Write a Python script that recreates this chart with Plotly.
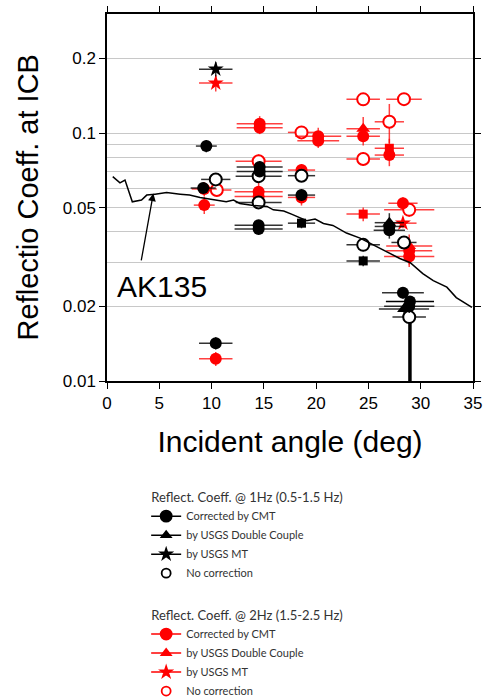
import math
import plotly.graph_objects as go

# ---------------- data ----------------
# AK135 theoretical curve
ak135_x = [0.55, 1.24, 1.72, 2.42, 3.3, 3.8, 4.6, 5.7, 7.0, 7.9, 8.9, 10.2, 11.4, 12.1, 12.7, 14.0, 15.3,
           15.9, 16.9, 17.7, 19.1, 19.9, 20.7, 21.6, 22.9, 24.2, 25.5, 26.7, 28.0, 29.0, 30.2, 31.2, 32.5,
           33.4, 34.9]
ak135_y = [0.0667, 0.063, 0.0646, 0.0528, 0.0537, 0.0562, 0.0567, 0.0575, 0.0567, 0.0562, 0.055, 0.054,
           0.0528, 0.0537, 0.052, 0.051, 0.0506, 0.049, 0.0485, 0.047, 0.0443, 0.045, 0.0432, 0.0424,
           0.0395, 0.0377, 0.0354, 0.0332, 0.0312, 0.0300, 0.0271, 0.0254, 0.0239, 0.0217, 0.0198]

# 1 Hz (black)
cmt1_x = [9.5, 9.2, 10.4, 14.6, 14.6, 14.5, 14.5, 18.6, 27.0, 27.0, 28.3, 28.9]
cmt1_y = [0.0886, 0.060, 0.0142, 0.073, 0.070, 0.0425, 0.041, 0.0562, 0.042, 0.0405, 0.0227, 0.0200]
cmt1_xerr = [1.0, 1.2, 1.6, 2.2, 2.2, 2.3, 2.3, 1.3, 1.4, 1.5, 2.0, 2.4]
cmt1_yerr = [0.005, 0.003, 0.0008, 0.004, 0.003, 0.002, 0.002, 0.003, 0.003, 0.003, 0.0012, 0.0012]

dc1_x = [27.0, 28.4]
dc1_y = [0.0435, 0.0195]
dc1_xerr = [1.4, 2.4]
dc1_yerr = [0.004, 0.001]

mt1_x = [10.4]
mt1_y = [0.181]
mt1_xerr = [1.6]
mt1_yerr = [0.012]

sq1_x = [18.6, 24.5]
sq1_y = [0.0433, 0.0305]
sq1_xerr = [1.3, 1.6]
sq1_yerr = [0.002, 0.0015]

no1_x = [10.4, 14.5, 14.5, 18.6, 24.5, 28.4, 28.9]
no1_y = [0.065, 0.067, 0.0525, 0.0673, 0.0354, 0.0362, 0.0181]
no1_xerr = [1.4, 2.2, 2.2, 1.3, 1.6, 1.2, 1.6]
no1_yerr = [0.003, 0.003, 0.002, 0.003, 0.002, 0.002, 0.001]

# long lower error bar at ~29 deg (1 Hz)
long1_x = [28.97]
long1_y = [0.0209]
long1_xerr = [2.3]
long1_yerr_plus = [0.001]
long1_yerr_minus = [0.018]

# 2 Hz (red)
cmt2_x = [9.3, 9.3, 10.4, 14.6, 14.6, 14.5, 14.5, 18.6, 18.6, 20.2, 20.2, 24.5, 27.0, 28.3, 28.9, 28.9]
cmt2_y = [0.0595, 0.0512, 0.0123, 0.109, 0.105, 0.058, 0.0555, 0.0709, 0.055, 0.097, 0.093, 0.097,
          0.0815, 0.0521, 0.0335, 0.0318]
cmt2_xerr = [1.2, 1.0, 1.6, 2.2, 2.2, 2.3, 2.3, 1.3, 1.3, 2.2, 2.0, 1.6, 1.4, 1.4, 2.2, 2.4]
cmt2_yerr = [0.004, 0.004, 0.0008, 0.008, 0.006, 0.005, 0.004, 0.004, 0.004, 0.008, 0.006, 0.008,
             0.008, 0.003, 0.004, 0.003]

dc2_x = [24.5, 28.9]
dc2_y = [0.104, 0.035]
dc2_xerr = [1.6, 2.2]
dc2_yerr = [0.012, 0.004]

mt2_x = [10.4, 28.3]
mt2_y = [0.159, 0.0433]
mt2_xerr = [1.6, 1.3]
mt2_yerr = [0.012, 0.002]

sq2_x = [24.5, 27.0]
sq2_y = [0.0471, 0.0868]
sq2_xerr = [1.6, 1.4]
sq2_yerr = [0.003, 0.008]

no2_x = [10.5, 14.5, 18.6, 24.5, 28.4, 27.0, 24.5, 28.9]
no2_y = [0.0589, 0.077, 0.1006, 0.1367, 0.137, 0.111, 0.0786, 0.049]
no2_xerr = [1.4, 2.2, 1.3, 1.6, 1.7, 1.4, 1.6, 2.4]
no2_yerr = [0.003, 0.005, 0.006, 0.008, 0.008, 0.02, 0.005, 0.003]

x_ticks = [0, 5, 10, 15, 20, 25, 30, 35]
y_ticks = [0.01, 0.02, 0.05, 0.1, 0.2]
y_ticktext = ["0.01", "0.02", "0.05", "0.1", "0.2"]
y_minor = [0.03, 0.04, 0.06, 0.07, 0.08, 0.09]

x_title = "Incident angle (deg)"
y_title = "Reflectio Coeff. at ICB"

group1_title = "Reflect. Coeff. @ 1Hz (0.5-1.5 Hz)"
group2_title = "Reflect. Coeff. @ 2Hz (1.5-2.5 Hz)"
legend_labels = ["Corrected by CMT", "by USGS Double Couple", "by USGS MT", "No correction"]

ak135_label = "AK135"
ak135_label_pos = (5.26, 0.0241)
ak135_arrow_head = (4.43, 0.0571)
ak135_arrow_tail = (3.25, 0.0302)

# ---------------- figure ----------------
BLACK = "black"
RED = "red"
RED_ERR = "rgba(255,0,0,0.75)"
BLACK_ERR = "rgba(0,0,0,0.8)"

fig = go.Figure()


def add_points(x, y, xerr, yerr, symbol, color, errcolor, size, open_=False, yerr_minus=None, ethick=1.5):
    ey = dict(type="data", array=yerr, color=errcolor, thickness=ethick, width=0)
    if yerr_minus is not None:
        ey = dict(type="data", symmetric=False, array=yerr, arrayminus=yerr_minus,
                  color=errcolor, thickness=ethick, width=0)
    marker = dict(symbol=symbol, size=size, color=color)
    if open_:
        marker = dict(symbol="circle", size=size, color="white", line=dict(color=color, width=2))
    fig.add_trace(go.Scatter(
        x=x, y=y, mode="markers", showlegend=False, hoverinfo="skip",
        error_x=dict(type="data", array=xerr, color=errcolor, thickness=1.5, width=0),
        error_y=ey, marker=marker))


# long error bar
add_points(long1_x, long1_y, long1_xerr, long1_yerr_plus, "circle", BLACK, BLACK, 12,
           yerr_minus=long1_yerr_minus, ethick=3.5)

# 2 Hz (red)
add_points(no2_x, no2_y, no2_xerr, no2_yerr, "circle", RED, RED_ERR, 12, open_=True)
add_points(cmt2_x, cmt2_y, cmt2_xerr, cmt2_yerr, "circle", RED, RED_ERR, 12)
add_points(sq2_x, sq2_y, sq2_xerr, sq2_yerr, "square", RED, RED_ERR, 9)
add_points(dc2_x, dc2_y, dc2_xerr, dc2_yerr, "triangle-up", RED, RED_ERR, 12)
add_points(mt2_x, mt2_y, mt2_xerr, mt2_yerr, "star", RED, RED_ERR, 12)

# 1 Hz (black)
add_points(no1_x, no1_y, no1_xerr, no1_yerr, "circle", BLACK, BLACK_ERR, 12, open_=True)
add_points(cmt1_x, cmt1_y, cmt1_xerr, cmt1_yerr, "circle", BLACK, BLACK_ERR, 12)
add_points(sq1_x, sq1_y, sq1_xerr, sq1_yerr, "square", BLACK, BLACK_ERR, 9)
add_points(dc1_x, dc1_y, dc1_xerr, dc1_yerr, "triangle-up", BLACK, BLACK_ERR, 12)
add_points(mt1_x, mt1_y, mt1_xerr, mt1_yerr, "star", BLACK, BLACK_ERR, 12)

# AK135 curve
fig.add_trace(go.Scatter(x=ak135_x, y=ak135_y, mode="lines", line=dict(color="black", width=1.5),
                         showlegend=False, hoverinfo="skip"))

# legend entries
symbols = ["circle", "triangle-up", "star", "circle-open"]
sizes = [11, 8, 8, 9]
for grp, title, color in [("g1", group1_title, BLACK), ("g2", group2_title, RED)]:
    for i, (lab, sym, sz) in enumerate(zip(legend_labels, symbols, sizes)):
        kw = dict(x=[None], y=[None], name=lab, legendgroup=grp,
                  marker=dict(symbol=sym, size=sz, color=color, line=dict(color=color, width=1.8)),
                  line=dict(color=color, width=1.5))
        if i == 0:
            kw["legendgrouptitle"] = dict(text=title, font=dict(family="Lato", size=13, color="#333"))
        kw["mode"] = "markers" if sym == "circle-open" else "lines+markers"
        fig.add_trace(go.Scatter(**kw))

# annotations
fig.add_annotation(x=ak135_label_pos[0], y=math.log10(ak135_label_pos[1]), text=ak135_label,
                   showarrow=False, font=dict(family="Liberation Sans", size=30, color="black"))
fig.add_annotation(x=ak135_arrow_head[0], y=math.log10(ak135_arrow_head[1]),
                   ax=ak135_arrow_tail[0], ay=math.log10(ak135_arrow_tail[1]),
                   axref="x", ayref="y", xref="x", yref="y", text="", showarrow=True,
                   arrowhead=2, arrowsize=1.2, arrowwidth=1.3, arrowcolor="black")
# y-axis title (rotated annotation for precise placement)
fig.add_annotation(x=-0.216, y=0.5, xref="paper", yref="paper", text=y_title, textangle=-90,
                   showarrow=False, xanchor="center", yanchor="middle",
                   font=dict(family="Liberation Sans", size=29, color="black"))

axis_font = dict(family="Liberation Sans", size=17, color="black")
fig.update_layout(
    width=484, height=698,
    margin=dict(l=107, r=11, t=14, b=317, autoexpand=False),
    paper_bgcolor="white", plot_bgcolor="white",
    font=dict(family="Liberation Sans", color="black"),
    showlegend=True,
    legend=dict(x=0.107, y=-0.2745, xanchor="left", yanchor="top",
                traceorder="grouped", tracegroupgap=22,
                font=dict(family="Lato", size=11, color="#333"),
                bgcolor="rgba(0,0,0,0)"),
    xaxis=dict(range=[0, 35], tickvals=x_ticks, showgrid=False, zeroline=False, automargin=False,
               showline=True, linecolor="black", linewidth=1.5, mirror="ticks",
               ticks="outside", ticklen=6, tickwidth=1.2, tickcolor="black",
               tickfont=axis_font, ticklabeloverflow="allow",
               title=dict(text=x_title, font=dict(family="Liberation Sans", size=30),
                          standoff=19)),
    yaxis=dict(type="log", range=[-2, math.log10(0.302)], tickvals=y_ticks, ticktext=y_ticktext,
               showgrid=True, gridcolor="#c8c8c8", gridwidth=1, zeroline=False, automargin=False,
               showline=True, linecolor="black", linewidth=1.5, mirror="ticks",
               ticks="outside", ticklen=6, tickwidth=1.2, tickcolor="black",
               tickfont=axis_font,
               minor=dict(tickvals=y_minor, showgrid=True, gridcolor="#c8c8c8", gridwidth=1, ticks="")),
)

fig.write_html("out.html", config={"displayModeBar": False},
               post_script="document.body.style.margin='0px';")
